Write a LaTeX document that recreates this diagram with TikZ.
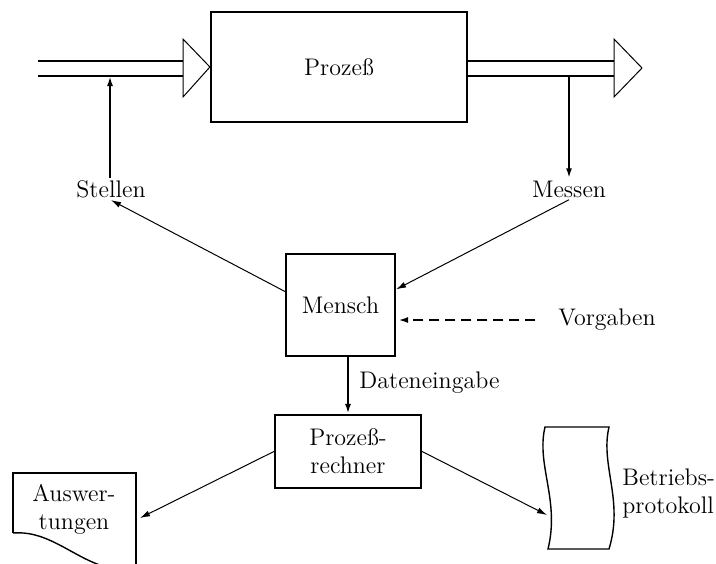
\documentclass[tikz,border=0pt]{standalone}
\usetikzlibrary{arrows.meta,calc}
\begin{document}
\begin{tikzpicture}[x=0.5pt,y=-0.5pt,
  every node/.style={font=\fontsize{12}{14}\selectfont},
  box/.style={draw,line width=1.1pt,inner sep=0pt},
  lbl/.style={inner sep=1pt},
  thickarrow/.style={line width=1pt,-{Latex[length=5pt,width=3pt]}},
  thinarrow/.style={line width=0.5pt,-{Latex[length=5pt,width=3pt]}},
  pipe/.style={line width=1pt},
  tri/.style={line width=0.5pt},
  doc/.style={line width=0.7pt}]
\path[use as bounding box] (0,0) rectangle (716,563);
% nodes
\node[box,minimum width=128pt,minimum height=55pt] (proc) at (339,67) {Prozeß};
\node[box,minimum width=54.5pt,minimum height=51pt] (mensch) at (340.5,305) {Mensch};
\node[box,minimum width=73pt,minimum height=36.5pt,align=center] (rechner) at (348,451.5) {Prozeß-\\rechner};
\node[lbl] (stellen) at (111,189) {Stellen};
\node[lbl] (messen) at (569,189) {Messen};
\node[lbl,anchor=west] (vorgaben) at (556,320) {Vorgaben};
\node[lbl,anchor=west] (daten) at (357,383) {Dateneingabe};
\node[lbl,align=center] (ausw) at (74,509) {Auswer-\\tungen};
\node[lbl,align=left,anchor=west] (betrieb) at (620,493) {Betriebs-\\protokoll};
% coordinates
\coordinate (lin1a) at (38,61);
\coordinate (lin1b) at (183,61);
\coordinate (lin2a) at (38,76);
\coordinate (lin2b) at (183,76);
\coordinate (rin1a) at (proc.east |- lin1a);
\coordinate (rin1b) at (614,61);
\coordinate (rin2a) at (proc.east |- lin2a);
\coordinate (rin2b) at (614,76);
\coordinate (stelltap) at (110,76);
\coordinate (messtap) at (569,76);
\coordinate (mensinL) at ($(mensch.north west)!0.37!(mensch.south west)$);
\coordinate (mensinR) at ($(mensch.north east)!0.35!(mensch.south east)$);
\coordinate (vorgstart) at (535,320);
\coordinate (vorgend) at (mensch.east |- vorgstart);
\coordinate (auswin) at (140,518);
\coordinate (betrin) at (547,515);
% pipes
\draw[pipe] (lin1a) -- (lin1b) (lin2a) -- (lin2b);
\draw[tri,fill=white] (183,39) -- (proc.west) -- (183,97) -- cycle;
\draw[pipe] (rin1a) -- (rin1b) (rin2a) -- (rin2b);
\draw[tri,fill=white] (614,39) -- (642,68) -- (614,97) -- cycle;
% connectors
\draw[thickarrow] (stelltap |- stellen.north) -- (stelltap);
\draw[thickarrow] (messtap) -- (messen.north);
\draw[thinarrow] (mensinL) -- (stellen.south);
\draw[thinarrow] (messen.south) -- (mensinR);
\draw[line width=1pt,dash pattern=on 5pt off 3pt,-{Latex[length=5pt,width=3pt]}] (vorgstart) -- ([xshift=1pt]vorgend);
\draw[thickarrow] (rechner.north |- mensch.south) -- (rechner.north);
\draw[thinarrow] (rechner.west) -- (auswin);
\draw[thinarrow] (rechner.east) -- (betrin);
% document shapes
\draw[doc] (13,533) -- (13,473) -- (136,473) -- (136,600);
\draw[doc] (13,533) .. controls (50,530) and (75,560) .. (110,568);
\draw[doc] (545,427) -- (609,427)
  .. controls (600,465) and (624,500) .. (609,549)
  -- (548,549)
  .. controls (560,500) and (536,465) .. (545,427) -- cycle;
\end{tikzpicture}
\end{document}
